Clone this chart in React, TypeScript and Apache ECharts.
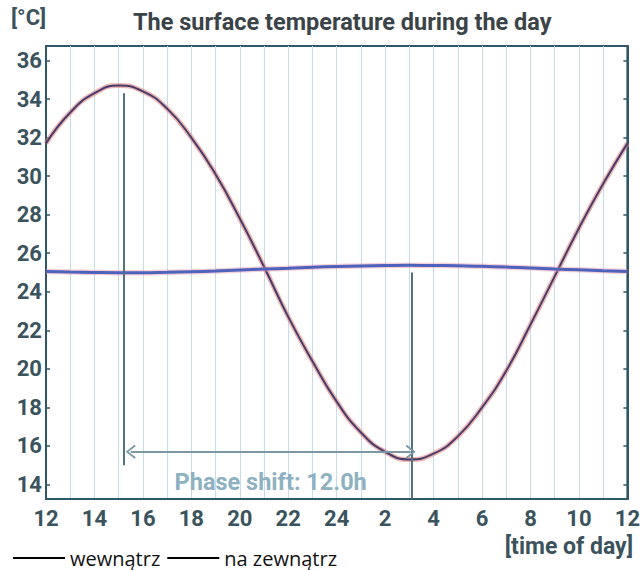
import React, { useEffect, useRef } from "react";
import * as echarts from "echarts";

const hours = [12, 13, 14, 15, 16, 17, 18, 19, 20, 21, 22, 23, 24, 25, 26, 27, 28, 29, 30, 31, 32, 33, 34, 35, 36];
const outsideTemp = [31.7, 33.3, 34.3, 34.7, 34.4, 33.5, 32.0, 30.1, 27.8, 25.3, 22.7, 20.4, 18.3, 16.7, 15.7, 15.3, 15.6, 16.5, 18.0, 19.9, 22.3, 24.8, 27.3, 29.6, 31.7];
const insideTemp = [25.05, 25.02, 25.0, 24.99, 24.99, 25.01, 25.04, 25.08, 25.13, 25.18, 25.22, 25.27, 25.31, 25.34, 25.36, 25.37, 25.36, 25.35, 25.32, 25.28, 25.23, 25.18, 25.14, 25.09, 25.05];

const xTickValues = [12, 14, 16, 18, 20, 22, 24, 26, 28, 30, 32, 34, 36];
const xTickLabels = ["12", "14", "16", "18", "20", "22", "24", "2", "4", "6", "8", "10", "12"];
const yTickValues = [14, 16, 18, 20, 22, 24, 26, 28, 30, 32, 34, 36];

const peakMarker = [[15.2, 34.3], [15.2, 15.0]];
const troughMarker = [[27.1, 25.0], [27.1, 13.25]];
const phaseArrow = [[15.5, 15.7], [27.05, 15.7]];
const phaseLabel = "Phase shift: 12.0h";

const AXIS = "#2f5866";
const LABEL = "#3a535d";
const FONT = "Roboto, 'DejaVu Sans', sans-serif";

export default function App() {
  const ref = useRef<HTMLDivElement>(null);
  useEffect(() => {
    if (!ref.current) return;
    const chart = echarts.init(ref.current, undefined, { renderer: "svg" });
    const outside = hours.map((h, i) => [h, outsideTemp[i]]);
    const inside = hours.map((h, i) => [h, insideTemp[i]]);
    const chevron = "path://M0,10 L10,0 L20,10 L18,11.5 L10,3 L2,11.5 Z";
    chart.setOption({
      animation: false,
      textStyle: { fontFamily: FONT },
      title: {
        text: "The surface temperature during the day",
        left: 128,
        top: 5,
        textStyle: { fontFamily: FONT, fontSize: 23.5, fontWeight: "bold", color: "#3a4448" },
      },
      legend: {
        data: ["wewnątrz", "na zewnątrz"],
        left: 8,
        top: 543,
        icon: "rect",
        itemWidth: 52,
        itemHeight: 2,
        itemGap: 7,
        itemStyle: { color: "#000" },
        textStyle: { fontFamily: "'Open Sans', sans-serif", fontSize: 20, color: "#111" },
      },
      graphic: [
        { type: "text", left: 11, top: 6, style: { text: "[°C]", fontFamily: FONT, fontSize: 22, fontWeight: "bold", fill: LABEL } },
        { type: "text", right: 10, top: 535, style: { text: "[time of day]", fontFamily: FONT, fontSize: 23, fontWeight: "bold", fill: LABEL } },
      ],
      grid: {
        left: 46, right: 13, top: 46, bottom: 71,
        show: true, borderColor: AXIS, borderWidth: 2, containLabel: false,
      },
      xAxis: {
        type: "value", min: 12, max: 36, interval: 1,
        axisLine: { show: true, lineStyle: { color: AXIS, width: 2 } },
        axisTick: { show: false },
        splitLine: { show: true, lineStyle: { color: "#c6dce9", width: 1 } },
        axisLabel: {
          customValues: xTickValues,
          formatter: (v: number) => xTickLabels[xTickValues.indexOf(v)] ?? "",
          color: LABEL, fontSize: 22, fontWeight: "bold", fontFamily: FONT, margin: 8, lineHeight: 22,
        },
      },
      yAxis: [
        {
          type: "value", min: 13.25, max: 36.75, position: "left",
          axisLine: { show: true, lineStyle: { color: AXIS, width: 2 } },
          axisTick: { show: true, inside: true, length: 4, customValues: yTickValues, lineStyle: { color: AXIS, width: 1.5 } },
          splitLine: { show: false },
          axisLabel: { customValues: yTickValues, color: LABEL, fontSize: 22, fontWeight: "bold", fontFamily: FONT, margin: 4 },
        },
        {
          type: "value", min: 13.25, max: 36.75, position: "right",
          axisLine: { show: true, lineStyle: { color: AXIS, width: 2 } },
          axisTick: { show: true, inside: true, length: 4, customValues: yTickValues, lineStyle: { color: AXIS, width: 1.5 } },
          splitLine: { show: false },
          axisLabel: { show: false },
        },
      ],
      series: [
        {
          name: "annotations", type: "line", data: [], silent: true,
          markLine: {
            silent: true, symbol: "none", animation: false,
            label: { show: false },
            lineStyle: { color: "#4f7380", width: 2, type: "solid" },
            data: [
              [{ coord: peakMarker[0] }, { coord: peakMarker[1] }],
              [{ coord: troughMarker[0] }, { coord: troughMarker[1] }],
            ],
          },
        },
        {
          name: "arrow", type: "line", data: [], silent: true,
          markLine: {
            silent: true, animation: false,
            symbol: [chevron, chevron], symbolSize: [14, 10],
            lineStyle: { color: "#7d98a3", width: 2, type: "solid" },
            label: {
              show: true, position: "insideMiddleBottom", distance: 18,
              formatter: phaseLabel, color: "#8eb1c2", fontSize: 23.5, fontWeight: "bold", fontFamily: FONT,
            },
            data: [[{ coord: phaseArrow[0] }, { coord: phaseArrow[1] }]],
          },
        },
        {
          name: "halo-out", type: "line", data: outside, smooth: true, showSymbol: false, silent: true,
          lineStyle: { color: "rgba(226,120,120,0.55)", width: 5 },
        },
        {
          name: "na zewnątrz", type: "line", data: outside, smooth: true, showSymbol: false,
          lineStyle: { color: "#463d6b", width: 2 }, itemStyle: { color: "#000" },
        },
        {
          name: "halo-in", type: "line", data: inside, smooth: true, showSymbol: false, silent: true,
          lineStyle: { color: "rgba(232,150,170,0.45)", width: 5.5 },
        },
        {
          name: "wewnątrz", type: "line", data: inside, smooth: true, showSymbol: false,
          lineStyle: { color: "#4d62bb", width: 3 }, itemStyle: { color: "#000" },
        },
      ],
    });
    return () => chart.dispose();
  }, []);
  return <div ref={ref} style={{ width: 643, height: 570, position: "absolute", left: 0, top: 0 }} />;
}
